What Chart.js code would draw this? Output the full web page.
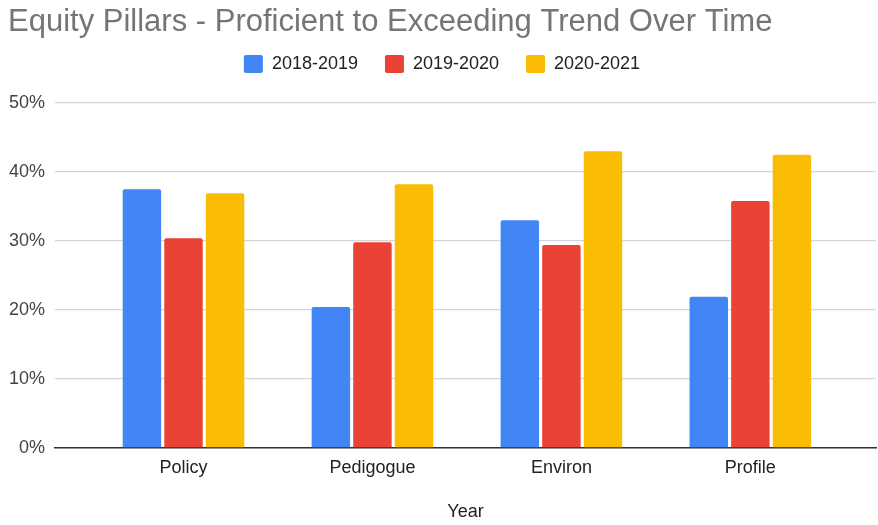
<!DOCTYPE html>
<html>
<head>
<meta charset="utf-8">
<title>Equity Pillars</title>
<script src="https://cdn.jsdelivr.net/npm/chart.js@4/dist/chart.umd.min.js"></script>
<style>
  html, body { margin: 0; padding: 0; background: #fff; }
  #wrap { width: 878px; height: 525px; position: relative; }
</style>
</head>
<body>
<div id="wrap"><canvas id="grafico"></canvas></div>
<script>
// pilares e percentuais por ano letivo
const categories = ["Policy", "Pedigogue", "Environ", "Profile"];
const years = ["2018-2019", "2019-2020", "2020-2021"];
const values2018 = [37.5, 20.4, 33.0, 21.9];
const values2019 = [30.4, 29.8, 29.4, 35.8];
const values2020 = [36.9, 38.2, 43.0, 42.5];
const yTicks = [0, 10, 20, 30, 40, 50];
const colors = ["#4285F4", "#EA4335", "#FBBC04"];

const font = "'Liberation Sans', Arial, sans-serif";

// eixo x linear para deixar a grade mais larga que os grupos de barras
function toPoints(arr) {
  return arr.map((v, i) => ({ x: i, y: v }));
}

// espaço extra entre a legenda e a área do gráfico
const legendGap = {
  id: "legendGap",
  beforeInit(chart) {
    const fit = chart.legend.fit;
    chart.legend.fit = function () {
      fit.bind(chart.legend)();
      this.height += 20;
    };
  },
};

let chartInstance;

document.addEventListener("DOMContentLoaded", () => {
  if (chartInstance) {
    chartInstance.destroy();
  }

  chartInstance = new Chart(document.getElementById("grafico"), {
    type: "bar",
    plugins: [legendGap],
    data: {
      datasets: [values2018, values2019, values2020].map((arr, k) => ({
        label: years[k],
        data: toPoints(arr),
        backgroundColor: colors[k],
        borderRadius: 2,
        categoryPercentage: 0.66,
        barPercentage: 0.925,
      })),
    },
    options: {
      responsive: true,
      maintainAspectRatio: false,
      animation: false,
      layout: { padding: { left: 8, right: 2, top: 0, bottom: 2 } },
      plugins: {
        title: {
          display: true,
          text: "Equity Pillars - Proficient to Exceeding Trend Over Time",
          align: "start",
          color: "#757575",
          // caixa baixa para a legenda ficar logo abaixo
          font: { family: font, size: 31, weight: "normal", lineHeight: "12px" },
          padding: { top: 16, bottom: 0 },
        },
        legend: {
          display: true,
          position: "top",
          labels: {
            color: "#222",
            font: { family: font, size: 18 },
            boxWidth: 19,
            boxHeight: 18,
            useBorderRadius: true,
            borderRadius: 2,
            padding: 27,
          },
        },
        tooltip: { enabled: false },
      },
      scales: {
        x: {
          type: "linear",
          min: -0.68,
          max: 3.665,
          offset: false,
          bounds: "data",
          afterBuildTicks: (scale) => {
            scale.ticks = categories.map((c, i) => ({ value: i }));
          },
          grid: { display: false, drawTicks: false },
          border: { display: true, color: "#333", width: 1.5 },
          ticks: {
            autoSkip: false,
            maxRotation: 0,
            padding: 9,
            color: "#222",
            font: { family: font, size: 18 },
            callback: (v) => categories[Math.round(v)] || "",
          },
          title: {
            display: true,
            text: "Year",
            color: "#222",
            font: { family: font, size: 18 },
            padding: { top: 14, bottom: 0 },
          },
        },
        y: {
          min: yTicks[0],
          max: yTicks[yTicks.length - 1],
          afterFit: (scale) => { scale.width = 47; },
          afterBuildTicks: (scale) => {
            scale.ticks = yTicks.map((v) => ({ value: v }));
          },
          grid: { color: "#d6d6d6", lineWidth: 1.3, drawTicks: false },
          border: { display: false },
          ticks: {
            padding: 10,
            color: "#444",
            font: { family: font, size: 18 },
            callback: (v) => v + "%",
          },
        },
      },
    },
  });
});
</script>
</body>
</html>
